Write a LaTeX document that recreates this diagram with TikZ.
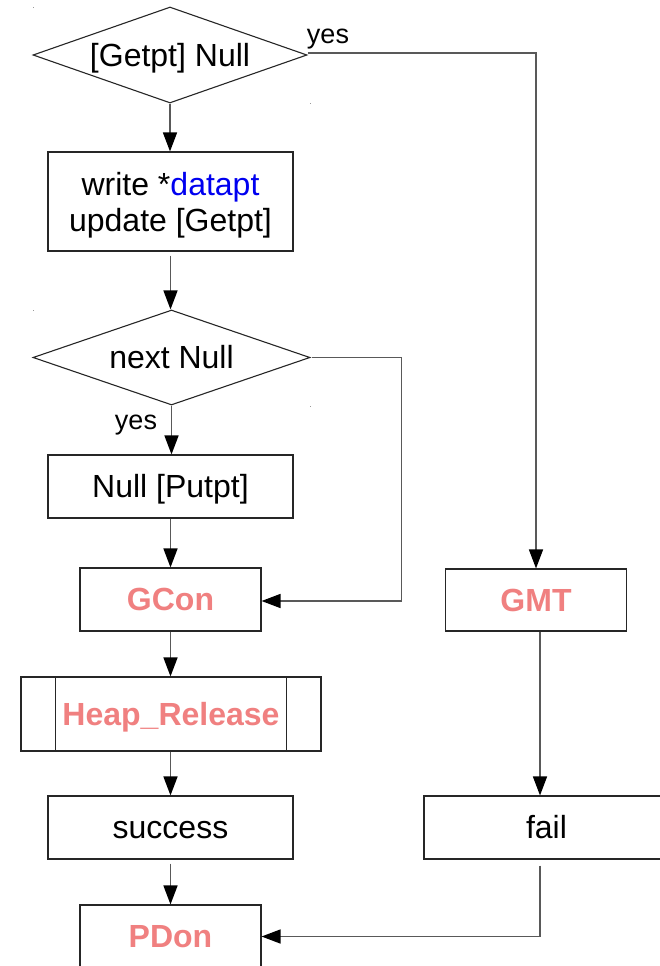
\documentclass[tikz,border=0pt]{standalone}
\usepackage{fontspec}
\setmainfont{Liberation Sans}
\usetikzlibrary{shapes.geometric,arrows.meta}
\definecolor{redtxt}{HTML}{F08080}
\definecolor{bluetxt}{HTML}{0000F0}
\begin{document}
\begin{tikzpicture}[x=1pt,y=-1pt,
  every node/.style={font=\fontsize{32}{36}\selectfont, inner sep=0pt},
  one/.style={text height=29pt, text depth=6.8pt},
  box/.style={draw=black!85, line width=1.1pt, rectangle, align=center},
  dia/.style={draw=black!85, line width=1.1pt, diamond, aspect=2.85, one},
  red/.style={text=redtxt, font=\fontsize{32}{36}\selectfont\bfseries},
  lbl/.style={font=\fontsize{27}{30}\selectfont},
  conn/.style={draw=black!65, line width=1.5pt, -{Triangle[length=19pt,width=14pt,color=black]}}
]
\useasboundingbox (0,0) rectangle (660,966);
\clip (0,0) rectangle (660,966);
\fill[white] (0,0) rectangle (660,966);

% nodes
\node[dia, minimum width=274pt, minimum height=96pt] (d1) at (170,55) {[Getpt] Null};
\node[box, minimum width=245pt, minimum height=99pt] (b1) at (170.5,201.5) {};
\node[align=center] (b1t) at (170.5,205.5) {write *\textcolor{bluetxt}{datapt}\\update [Getpt]};
\node[dia, minimum width=277pt, minimum height=95pt] (d2) at (171.5,357.5) {next Null};
\node[box, one, minimum width=245pt, minimum height=63pt] (b2) at (170.5,486.5) {Null [Putpt]};
\node[box, one, red, minimum width=181pt, minimum height=63pt] (gcon) at (170.5,599.5) {GCon};
\node[box, one, red, minimum width=181pt, minimum height=62pt] (gmt) at (536,600) {GMT};
\node[box, one, red, minimum width=300pt, minimum height=74pt] (heap) at (171,714) {Heap\_Release};
\draw[draw=black!85, line width=1.1pt] ([xshift=35pt]heap.north west) -- ([xshift=35pt]heap.south west);
\draw[draw=black!85, line width=1.1pt] ([xshift=-35pt]heap.north east) -- ([xshift=-35pt]heap.south east);
\node[box, one, minimum width=245pt, minimum height=63pt] (succ) at (170.5,827.5) {success};
\node[box, one, minimum width=245pt, minimum height=63pt] (fail) at (546.5,827.5) {fail};
\node[box, one, red, minimum width=181pt, minimum height=63pt] (pdon) at (170.5,936.5) {PDon};

% labels
\node[lbl] (y1) at (328,39) {yes};
\node[lbl] (y2) at (136,425) {yes};

% tiny specks
\fill[black!40] (32.5,7.5) rectangle (33.5,8.5);
\fill[black!40] (309.5,102.5) rectangle (310.5,103.5);
\fill[black!40] (32.5,309.5) rectangle (33.5,310.5);
\fill[black!40] (309.5,405.5) rectangle (310.5,406.5);

% connectors
\draw[conn] (d1.south) -- (b1.north -| d1.south);
\draw[conn, shorten <=4pt] (b1.south) -- (d2.north -| b1.south);
\draw[conn] (d2.south) -- (b2.north -| d2.south);
\draw[conn] (b2.south) -- (gcon.north);
\draw[conn] (gcon.south) -- (heap.north -| gcon.south);
\draw[conn] (heap.south -| succ.north) -- (succ.north);
\draw[conn, shorten <=4pt] (succ.south) -- (pdon.north);
\draw[conn] ([yshift=2pt]d1.east) -| (gmt.north);
\draw[conn] ([xshift=1pt]d2.east) -| ++(90,0) |- ([yshift=-1.5pt]gcon.east);
\draw[conn] ([xshift=4pt]gmt.south) -- ([xshift=4pt]gmt.south |- fail.north);
\draw[conn, shorten <=6pt] ([xshift=-6.5pt]fail.south) |- (pdon.east);
\end{tikzpicture}
\end{document}
